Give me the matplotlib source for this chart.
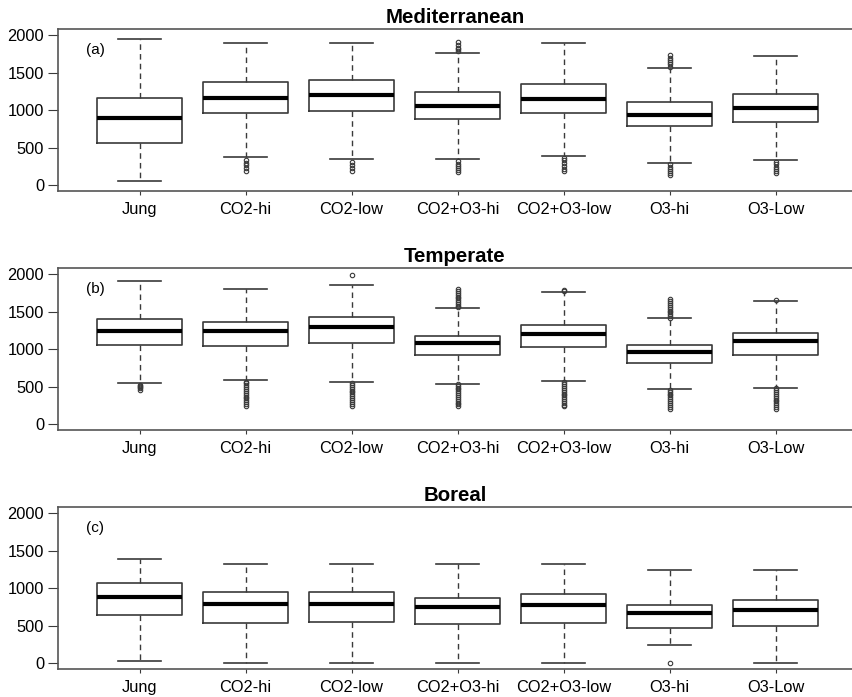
import matplotlib
matplotlib.use('Agg')
import matplotlib.pyplot as plt

plt.rcParams['font.family'] = ['Liberation Sans', 'DejaVu Sans']

# ========== data ==========
categories = ['Jung', 'CO2-hi', 'CO2-low', 'CO2+O3-hi', 'CO2+O3-low', 'O3-hi', 'O3-Low']
titles = ['Mediterranean', 'Temperate', 'Boreal']
tags = ['(a)', '(b)', '(c)']
yticks = [0, 500, 1000, 1500, 2000]

# Mediterranean
med_a = [901, 1166, 1205, 1050, 1147, 931, 1028]
q1_a = [560, 967, 993, 878, 958, 785, 843]
q3_a = [1166, 1368, 1404, 1240, 1342, 1107, 1209]
lo_a = [53, 375, 353, 344, 388, 299, 331]
hi_a = [1951, 1898, 1898, 1766, 1898, 1558, 1717]
fl_a = [
    [],
    [340, 300, 270, 230, 190],
    [310, 270, 230, 195],
    [1900, 1860, 1830, 1810, 1790, 320, 290, 260, 230, 200, 180],
    [370, 340, 300, 260, 220, 190],
    [1735, 1700, 1670, 1640, 1610, 1580, 280, 250, 220, 190, 160, 140],
    [310, 280, 250, 220, 190, 160],
]

# Temperate
med_b = [1240, 1240, 1289, 1080, 1209, 964, 1107]
q1_b = [1058, 1049, 1080, 920, 1027, 822, 920]
q3_b = [1400, 1356, 1422, 1178, 1324, 1058, 1213]
lo_b = [547, 591, 569, 542, 578, 471, 489]
hi_b = [1907, 1800, 1858, 1547, 1756, 1409, 1636]
fl_b = [
    [530, 515, 500, 480, 460],
    [570, 545, 520, 495, 470, 445, 420, 395, 370, 345, 320, 295, 270, 245],
    [1982, 550, 525, 500, 475, 450, 425, 400, 375, 350, 325, 300, 275, 245],
    [1800, 1775, 1750, 1725, 1700, 1675, 1650, 1625, 1600, 1575, 1560,
     540, 515, 490, 465, 440, 415, 390, 365, 340, 315, 290, 265, 245],
    [1790, 1775, 560, 535, 510, 485, 460, 435, 410, 385, 360, 335, 310, 285, 260, 245],
    [1665, 1640, 1615, 1590, 1565, 1540, 1515, 1490, 1465, 1440, 1420,
     460, 435, 410, 385, 360, 335, 310, 285, 260, 235, 200],
    [1658, 480, 455, 430, 405, 380, 355, 330, 305, 280, 255, 230, 210],
]

# Boreal
med_c = [880, 787, 796, 747, 774, 677, 713]
q1_c = [646, 544, 553, 522, 540, 474, 495]
q3_c = [1066, 946, 951, 867, 920, 779, 849]
lo_c = [27, 9, 9, 13, 13, 252, 13]
hi_c = [1384, 1323, 1323, 1323, 1323, 1248, 1248]
fl_c = [[], [], [], [], [], [13], []]

panels = [
    (med_a, q1_a, q3_a, lo_a, hi_a, fl_a),
    (med_b, q1_b, q3_b, lo_b, hi_b, fl_b),
    (med_c, q1_c, q3_c, lo_c, hi_c, fl_c),
]

# ========== drawing ==========
fig = plt.figure(figsize=(8.52, 6.97), dpi=100)
bottoms = [0.726, 0.383, 0.040]
dark = '#3a3a3a'

for k, (med, q1, q3, lo, hi, fl) in enumerate(panels):
    ax = fig.add_axes([0.068, bottoms[k], 0.932, 0.233])
    stats = []
    for i, name in enumerate(categories):
        stats.append(dict(med=med[i], q1=q1[i], q3=q3[i],
                          whislo=lo[i], whishi=hi[i], fliers=fl[i], label=name))
    ax.bxp(stats, positions=range(1, 8), widths=0.8, showfliers=True,
           boxprops=dict(color=dark, linewidth=1.2),
           medianprops=dict(color='black', linewidth=3),
           whiskerprops=dict(color=dark, linewidth=1, linestyle=(0, (4, 3))),
           capprops=dict(color=dark, linewidth=1.2),
           capwidths=0.4,
           flierprops=dict(marker='o', markersize=3.2, markerfacecolor='none',
                           markeredgecolor=dark, markeredgewidth=0.8))

    ax.set_xlim(0.23, 7.72)
    ax.set_ylim(-75, 2085)
    ax.set_yticks(yticks)
    ax.set_yticklabels([str(v) for v in yticks])
    ax.tick_params(axis='both', labelsize=11.8, colors=dark, labelcolor='black')
    ax.tick_params(axis='y', length=7, pad=3)
    ax.tick_params(axis='x', length=3, pad=5)
    ax.spines['right'].set_visible(False)
    for s in ['left', 'top', 'bottom']:
        ax.spines[s].set_color('#555555')
        ax.spines[s].set_linewidth(1.2)
    ax.set_title(titles[k], fontsize=14.7, fontweight='bold', pad=4)
    ax.text(0.49, 1800, tags[k], fontsize=11, va='center', ha='left')

plt.savefig('out.png', dpi=100)
plt.close()
